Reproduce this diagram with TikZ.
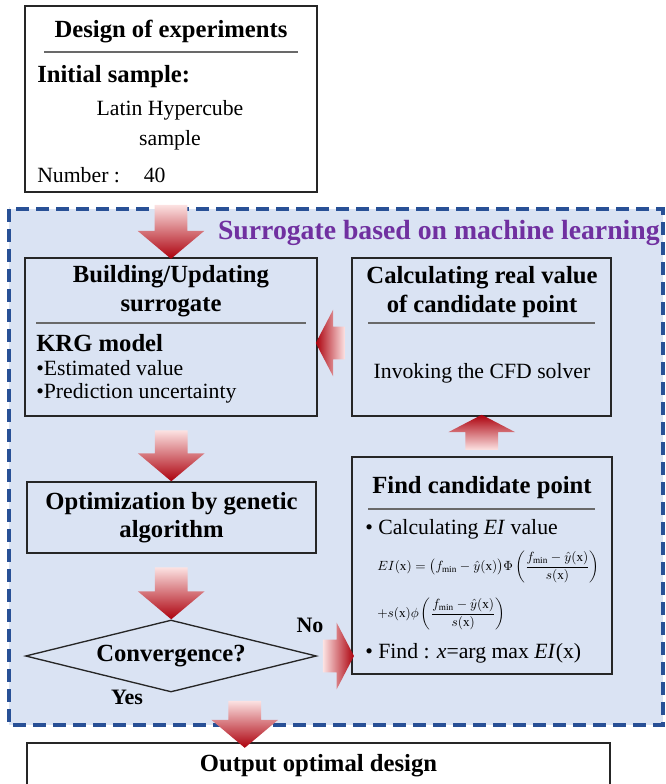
\documentclass[tikz,border=0pt]{standalone}
\usepackage{amsmath}
\usepackage{fontspec}
\setmainfont{Liberation Serif}
\usetikzlibrary{shapes.geometric,shapes.arrows,positioning,calc}
\newdimen\upx \upx=0.75pt
\definecolor{bgblue}{RGB}{218,227,243}
\definecolor{dashblue}{RGB}{40,80,150}
\definecolor{titlepurple}{RGB}{112,48,160}
\definecolor{arrowlight}{RGB}{252,226,226}
\definecolor{arrowdark}{RGB}{172,0,12}
\definecolor{rulegray}{RGB}{105,105,105}
\tikzstyle{block} = [draw=black!85, line width=1pt, rectangle, inner sep=0pt]
\tikzstyle{head} = [font=\bfseries\fontsize{18.5}{21.5}\selectfont, align=center, inner sep=0pt]
\tikzstyle{body} = [font=\fontsize{16.3}{19}\selectfont, inner sep=0pt]
\tikzstyle{answer} = [font=\bfseries\fontsize{16.5}{19}\selectfont, inner sep=0pt]
\tikzstyle{formula} = [font=\fontsize{9.8}{11}\selectfont, inner sep=0pt, anchor=west]
\tikzstyle{rule} = [draw=rulegray, line width=0.8pt]
\tikzstyle{bigarrow} = [single arrow, inner xsep=0pt, inner ysep=16\upx,
    single arrow head extend=17\upx, single arrow tip angle=100]
\tikzstyle{stubby} = [single arrow tip angle=125]
% the shading does not turn with the node, so each direction gets its own
\tikzstyle{pointdown} = [rotate=-90, top color=arrowlight, bottom color=arrowdark]
\tikzstyle{pointup} = [rotate=90, top color=arrowdark, bottom color=arrowlight]
\tikzstyle{pointleft} = [rotate=180, left color=arrowdark, right color=arrowlight]
\tikzstyle{pointright} = [left color=arrowlight, right color=arrowdark]

\begin{document}
\begin{tikzpicture}[x=0.75pt, y=-0.75pt]
    \useasboundingbox (0,0) rectangle (666,784);
    \clip (0,0) rectangle (666,784);
    % The surrogate loop sits on a dashed, shaded panel
    \draw [dashblue, fill=bgblue, line width=2.8pt, dash pattern=on 10pt off 5pt]
        (9,209) rectangle (663,725);
    \node [anchor=east, text=titlepurple, inner sep=0pt,
        font=\bfseries\fontsize{20.8}{24}\selectfont] (sbml) at (660,233)
        {Surrogate based on machine learning};

    % We start by placing the blocks
    \node [block, fill=white, minimum width=292\upx, minimum height=186\upx] (doe) at (171,99) {};
    \node [block, minimum width=292\upx, minimum height=158\upx] (build) at (171,337) {};
    \node [block, minimum width=259\upx, minimum height=158\upx] (cfd) at (481.5,337) {};
    \node [block, head, minimum width=289\upx, minimum height=71\upx] (opt) at (171.5,517.5)
        {Optimization by genetic\\algorithm};
    \node [block, head, diamond, aspect=4, minimum width=291\upx, minimum height=72\upx]
        (conv) at (171,656) {Convergence?};
    \node [block, minimum width=260\upx, minimum height=217\upx] (find) at (482,565.5) {};
    \node [block, head, fill=white, minimum width=583\upx, minimum height=45\upx]
        (out) at (318.5,765.5) {Output optimal design};

    % Contents of the design of experiments
    \node [head] (doeT) at (171,32) {Design of experiments};
    \draw [rule] (44,52) -- (298,52);
    \node [head, anchor=west] (doeS) at (37,77) {Initial sample:};
    \node [body, align=center, font=\fontsize{16.3}{22.5}\selectfont] (doeL) at (170,125)
        {Latin Hypercube\\sample};
    \node [body, anchor=west] (doeN) at (37,175) {Number :\hspace{1.1em}40};

    % Building/Updating surrogate
    \node [head] (buildT) at (171,291) {Building/Updating\\surrogate};
    \draw [rule] (36,323) -- (306,323);
    \node [head, anchor=west] (krg) at (36,343) {KRG model};
    \node [body, anchor=west] (krgA) at (36,368) {•Estimated value};
    \node [body, anchor=west] (krgB) at (36,393) {•Prediction uncertainty};

    % Calculating real value
    \node [head] (cfdT) at (482,292) {Calculating real value\\of candidate point};
    \draw [rule] (368,323) -- (595,323);
    \node [body] (cfdB) at (482,373) {Invoking the CFD solver};

    % Find candidate point
    \node [head] (findT) at (482,488) {Find candidate point};
    \draw [rule] (368,509) -- (595,509);
    \node [body, anchor=west] (findA) at (365,529) {• Calculating \textit{EI} value};
    \node [formula] (findE1) at (377,567)
        {$EI(\mathrm{x})=\bigl(f_{\min}-\hat{y}(\mathrm{x})\bigr)\Phi\left(\dfrac{f_{\min}-\hat{y}(\mathrm{x})}{s(\mathrm{x})}\right)$};
    \node [formula] (findE2) at (377,614)
        {$+s(\mathrm{x})\phi\left(\dfrac{f_{\min}-\hat{y}(\mathrm{x})}{s(\mathrm{x})}\right)$};
    \node [body, anchor=west] (findB) at (365,653) {• Find : \textit{x}=arg max \textit{EI}(x)};

    % Decision labels
    \node [answer] (no) at (310,625) {No};
    \node [answer] (yes) at (127,697) {Yes};

    % Once the nodes are placed, the big arrows go between them
    \path (doe.south) -- node [bigarrow, pointdown, minimum height=54\upx] (arrA) {} (build.north);
    \path (build.south) -- node [bigarrow, pointdown, minimum height=51\upx] (arrB) {} (opt.north);
    \path (opt.south) -- node [bigarrow, pointdown, minimum height=52\upx] (arrC) {} (conv.north);
    \path (conv.south) -- node [bigarrow, pointdown, minimum height=47\upx] (arrD) {} (out.north);
    \path (conv.east) -- node [bigarrow, stubby, pointright, minimum height=31\upx] (arrNo) {}
        (conv.east -| find.west);
    \path (find.north) -- node [bigarrow, stubby, pointup, minimum height=35\upx] (arrUp) {} (cfd.south);
    \path ([yshift=-6\upx]cfd.west) -- node [bigarrow, stubby, pointleft, minimum height=29\upx]
        (arrL) {} ([yshift=-6\upx]build.east);
\end{tikzpicture}
\end{document}
